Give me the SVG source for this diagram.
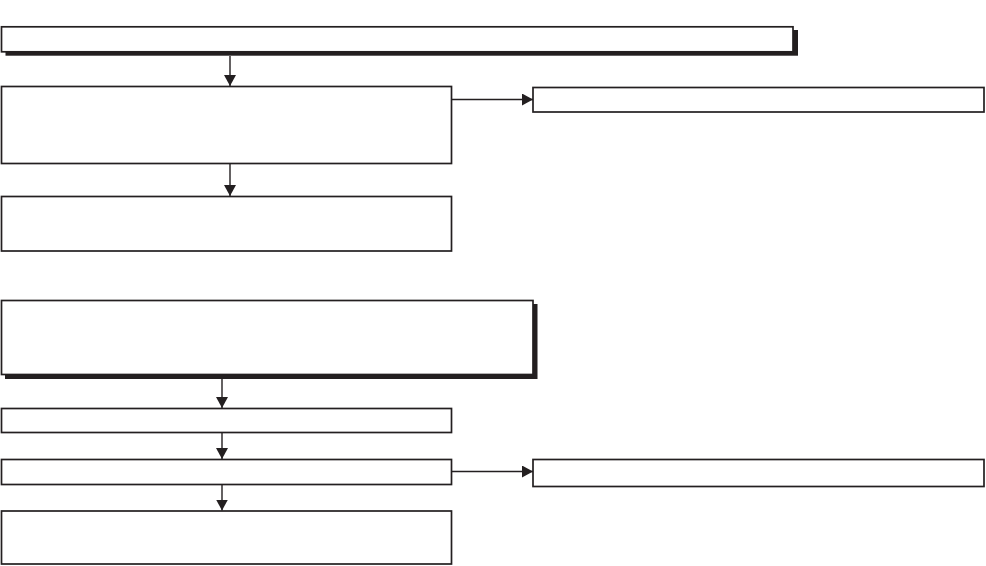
<svg xmlns="http://www.w3.org/2000/svg" width="986" height="566" viewBox="0 0 986 566">
<style>
.box{fill:#fff;stroke:#231f20;stroke-width:1.7}
.shadow{fill:#231f20}
.conn line{stroke:#231f20;stroke-width:1.4}
</style>
<defs>
<marker id="ah" viewBox="0 0 11 12" refX="11" refY="6" markerWidth="11" markerHeight="12" orient="auto" markerUnits="userSpaceOnUse">
<path d="M0,0 L11,6 L0,12 z" fill="#231f20"/>
</marker>
</defs>
<rect width="986" height="566" fill="#fff"/>
<g id="node1">
<rect class="shadow" x="5.5" y="30" width="792.5" height="25.7"/>
<rect class="box" x="1.5" y="26.8" width="791.5" height="25"/>
</g>
<g id="node2"><rect class="box" x="1.5" y="86.5" width="450" height="77"/></g>
<g id="node3"><rect class="box" x="1.5" y="196.5" width="450" height="54.5"/></g>
<g id="node4"><rect class="box" x="533" y="87.5" width="451" height="24.5"/></g>
<g id="node5">
<rect class="shadow" x="5" y="304" width="532.5" height="75"/>
<rect class="box" x="1.5" y="300.5" width="531.5" height="74"/>
</g>
<g id="node6"><rect class="box" x="1.5" y="408.5" width="450" height="24"/></g>
<g id="node7"><rect class="box" x="1.5" y="459.5" width="450" height="25"/></g>
<g id="node8"><rect class="box" x="533" y="459.5" width="451" height="27"/></g>
<g id="node9"><rect class="box" x="1.5" y="511" width="450" height="53"/></g>
<g id="connectors" class="conn">
<line x1="230" y1="56" x2="230" y2="86" marker-end="url(#ah)"/>
<line x1="230" y1="163.5" x2="230" y2="196" marker-end="url(#ah)"/>
<line x1="451.5" y1="99.5" x2="533" y2="99.5" marker-end="url(#ah)"/>
<line x1="222" y1="379" x2="222" y2="408" marker-end="url(#ah)"/>
<line x1="222" y1="433" x2="222" y2="459" marker-end="url(#ah)"/>
<line x1="451.5" y1="471.5" x2="533" y2="471.5" marker-end="url(#ah)"/>
<line x1="222" y1="484.5" x2="222" y2="510.5" marker-end="url(#ah)"/>
</g>
</svg>
